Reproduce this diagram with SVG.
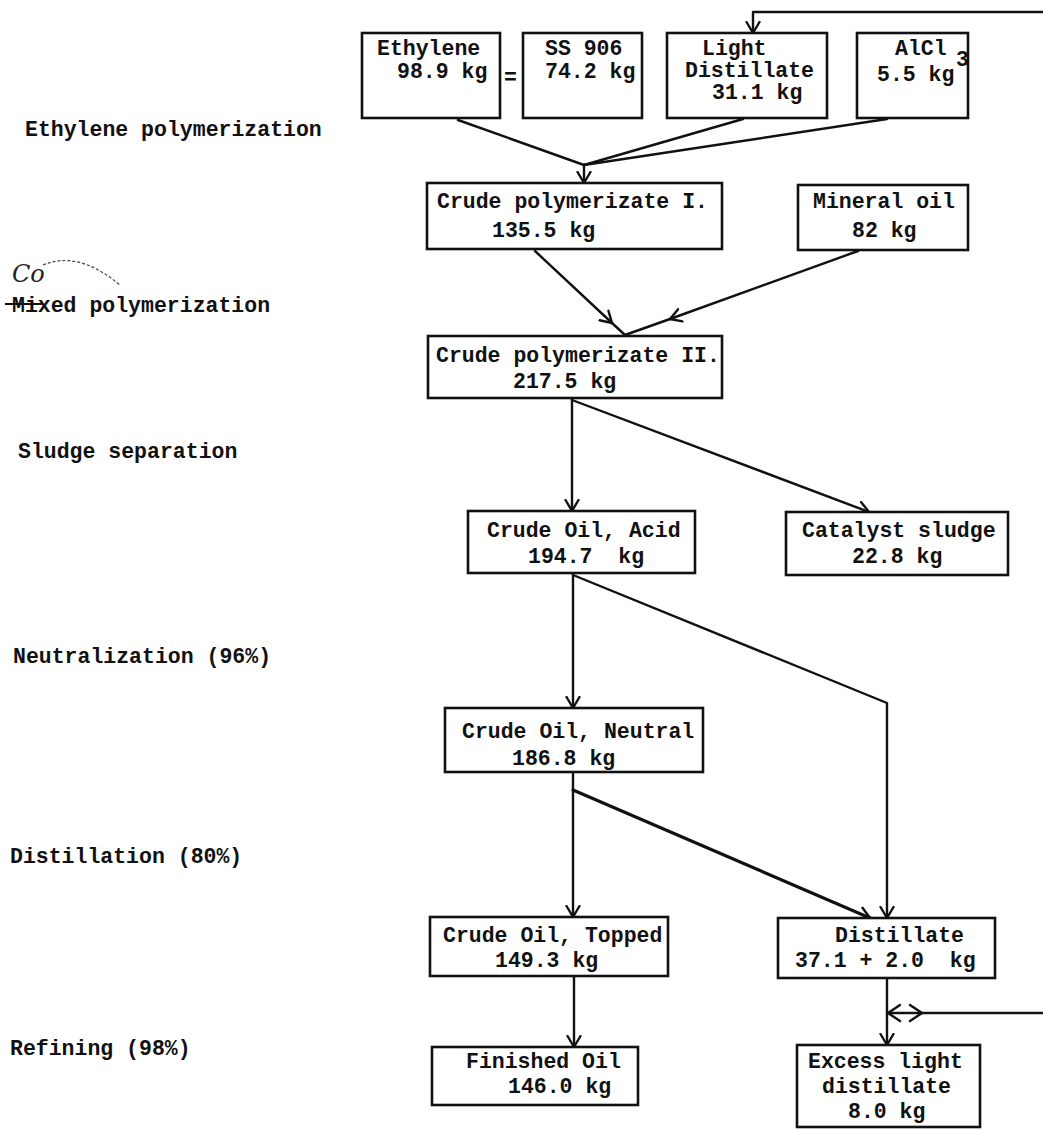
<svg xmlns="http://www.w3.org/2000/svg" width="1043" height="1129" viewBox="0 0 1043 1129">
<style>
  .box { fill: #ffffff; stroke: #111; stroke-width: 2.6; }
  .t { font-family: "Liberation Mono", "DejaVu Sans Mono", monospace; font-size: 21.5px; font-weight: bold; fill: #111; }
  .c { fill: none; stroke: #111; stroke-width: 2.4; stroke-linecap: round; stroke-linejoin: round; }
  .thick { stroke-width: 3.2; }
  .hand { font-family: "DejaVu Serif", "Liberation Serif", serif; font-style: italic; font-size: 24px; fill: #222; }
</style>
<defs>
  <marker id="ah" viewBox="-12 -8 14 16" markerWidth="14" markerHeight="16" refX="0" refY="0" orient="auto" markerUnits="userSpaceOnUse">
    <path d="M -11 -6.5 L 0 0 L -11 6.5" fill="none" stroke="#111" stroke-width="2.4" stroke-linecap="round" stroke-linejoin="round"/>
  </marker>
</defs>
<rect width="1043" height="1129" fill="#ffffff"/>

<g id="stage-labels">
  <text class="t" x="25" y="136">Ethylene polymerization</text>
  <text class="hand" x="12" y="282">Co</text>
  <path d="M 43 265 Q 78 250 120 285" fill="none" stroke="#444" stroke-width="1.2" stroke-dasharray="3 2"/>
  <text class="t" x="12" y="312">Mixed polymerization</text>
  <line x1="5" y1="304" x2="42" y2="304" stroke="#111" stroke-width="2"/>
  <text class="t" x="18" y="458">Sludge separation</text>
  <text class="t" x="13" y="663">Neutralization (96%)</text>
  <text class="t" x="10" y="863">Distillation (80%)</text>
  <text class="t" x="10" y="1055">Refining (98%)</text>
</g>

<g id="connectors">
  <line class="c" x1="458" y1="120" x2="584" y2="165"/>
  <line class="c" x1="743" y1="119" x2="584" y2="165"/>
  <line class="c" x1="887" y1="119" x2="584" y2="165"/>
  <line class="c" x1="584" y1="165" x2="584" y2="183" marker-end="url(#ah)"/>
  <polyline class="c" points="1043,12 753,12 753,33" marker-end="url(#ah)"/>
  <line class="c" x1="535" y1="251" x2="612" y2="323" marker-end="url(#ah)"/>
  <line class="c" x1="612" y1="323" x2="625" y2="335"/>
  <line class="c" x1="858" y1="251" x2="670" y2="319" marker-end="url(#ah)"/>
  <line class="c" x1="670" y1="319" x2="625" y2="335"/>
  <line class="c" x1="572" y1="398" x2="572" y2="511" marker-end="url(#ah)"/>
  <line class="c" x1="572" y1="400" x2="869" y2="512" marker-end="url(#ah)"/>
  <line class="c" x1="573" y1="573" x2="573" y2="708" marker-end="url(#ah)"/>
  <polyline class="c" points="573,575 887,703 887,918" marker-end="url(#ah)"/>
  <line class="c" x1="573" y1="772" x2="573" y2="917" marker-end="url(#ah)"/>
  <line class="c thick" x1="573" y1="790" x2="870" y2="918" marker-end="url(#ah)"/>
  <line class="c" x1="574" y1="976" x2="574" y2="1047" marker-end="url(#ah)"/>
  <line class="c" x1="887" y1="978" x2="887" y2="1045" marker-end="url(#ah)"/>
  <line class="c" x1="887" y1="1013" x2="1043" y2="1013"/>
  <path class="c" d="M 900 1005 L 888 1013 L 900 1021"/>
  <path class="c" d="M 910 1005 L 922 1013 L 910 1021"/>
</g>

<g id="node-ethylene">
  <rect class="box" x="362" y="33" width="138" height="85"/>
  <text class="t" x="377" y="55">Ethylene</text>
  <text class="t" x="397" y="78">98.9 kg</text>
</g>
<text class="t" x="504" y="84" font-size="24">=</text>
<g id="node-ss906">
  <rect class="box" x="523" y="33" width="119" height="85"/>
  <text class="t" x="545" y="55">SS 906</text>
  <text class="t" x="545" y="78">74.2 kg</text>
</g>
<g id="node-light-distillate">
  <rect class="box" x="667" y="33" width="160" height="85"/>
  <text class="t" x="702" y="55">Light</text>
  <text class="t" x="685" y="77">Distillate</text>
  <text class="t" x="712" y="99">31.1 kg</text>
</g>
<g id="node-alcl3">
  <rect class="box" x="857" y="33" width="111" height="85"/>
  <text class="t" x="895" y="55">AlCl</text>
  <text class="t" x="956" y="66" font-size="20">3</text>
  <text class="t" x="877" y="81">5.5 kg</text>
</g>
<g id="node-crude-poly-1">
  <rect class="box" x="427" y="183" width="295" height="66"/>
  <text class="t" x="437" y="208">Crude polymerizate I.</text>
  <text class="t" x="492" y="237">135.5 kg</text>
</g>
<g id="node-mineral-oil">
  <rect class="box" x="798" y="185" width="170" height="65"/>
  <text class="t" x="813" y="208">Mineral oil</text>
  <text class="t" x="852" y="237">82 kg</text>
</g>
<g id="node-crude-poly-2">
  <rect class="box" x="428" y="336" width="294" height="62"/>
  <text class="t" x="436" y="362">Crude polymerizate II.</text>
  <text class="t" x="513" y="388">217.5 kg</text>
</g>
<g id="node-crude-oil-acid">
  <rect class="box" x="468" y="511" width="227" height="62"/>
  <text class="t" x="487" y="537">Crude Oil, Acid</text>
  <text class="t" x="528" y="563" xml:space="preserve">194.7  kg</text>
</g>
<g id="node-catalyst-sludge">
  <rect class="box" x="786" y="512" width="222" height="63"/>
  <text class="t" x="802" y="537">Catalyst sludge</text>
  <text class="t" x="852" y="563">22.8 kg</text>
</g>
<g id="node-crude-oil-neutral">
  <rect class="box" x="445" y="708" width="258" height="64"/>
  <text class="t" x="462" y="738">Crude Oil, Neutral</text>
  <text class="t" x="512" y="765">186.8 kg</text>
</g>
<g id="node-crude-oil-topped">
  <rect class="box" x="430" y="917" width="238" height="59"/>
  <text class="t" x="443" y="942">Crude Oil, Topped</text>
  <text class="t" x="495" y="967">149.3 kg</text>
</g>
<g id="node-distillate">
  <rect class="box" x="778" y="918" width="217" height="60"/>
  <text class="t" x="835" y="942">Distillate</text>
  <text class="t" x="795" y="967" xml:space="preserve">37.1 + 2.0  kg</text>
</g>
<g id="node-finished-oil">
  <rect class="box" x="432" y="1047" width="206" height="58"/>
  <text class="t" x="466" y="1068">Finished Oil</text>
  <text class="t" x="508" y="1093">146.0 kg</text>
</g>
<g id="node-excess-light-distillate">
  <rect class="box" x="797" y="1045" width="183" height="82"/>
  <text class="t" x="808" y="1068">Excess light</text>
  <text class="t" x="822" y="1093">distillate</text>
  <text class="t" x="848" y="1118">8.0 kg</text>
</g>
</svg>
